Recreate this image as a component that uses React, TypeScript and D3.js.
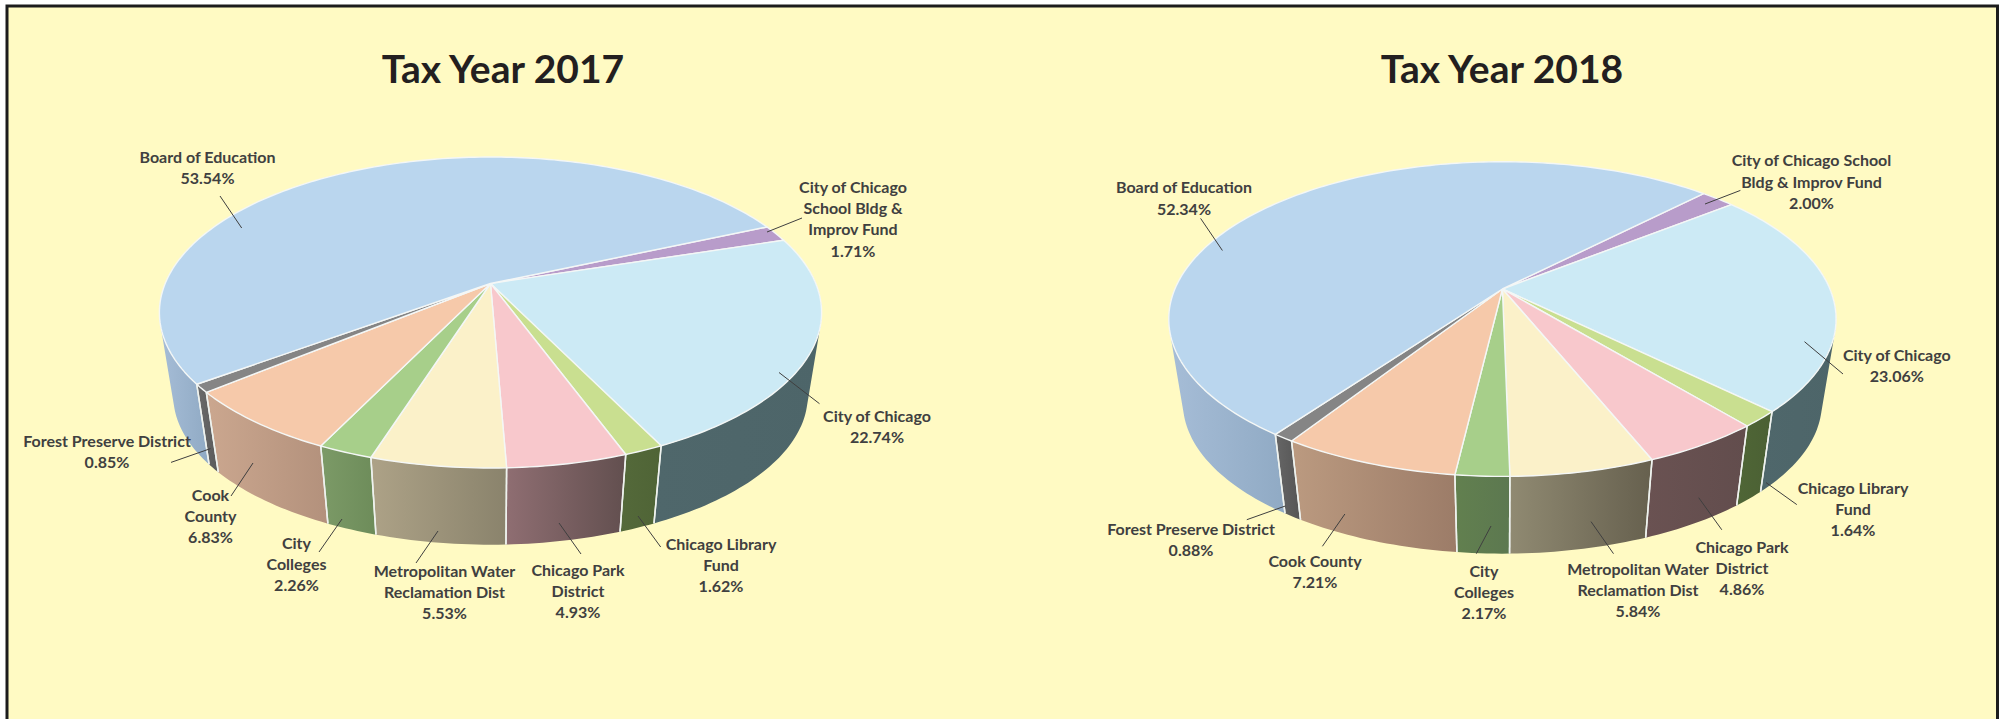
import React, { useMemo } from "react";
import * as d3 from "d3";

const categories = [
  "School Fund",
  "City of Chicago",
  "Chicago Library Fund",
  "Chicago Park District",
  "Metropolitan Water Reclamation Dist",
  "City Colleges",
  "Cook County",
  "Forest Preserve District",
  "Board of Education",
];
const values2017 = [1.71, 22.74, 1.62, 4.93, 5.53, 2.26, 6.83, 0.85, 53.54];
const values2018 = [2.0, 23.06, 1.64, 4.86, 5.84, 2.17, 7.21, 0.88, 52.34];

const topColors = ["#b89cca", "#cceaf5", "#c9df90", "#f8c8cc", "#fbf1c9", "#a7cf8a", "#f6c9aa", "#858585", "#bad6ee"];
const wallLeft2017 = ["#8a7496", "#4f676b", "#54693a", "#8f6e72", "#ada287", "#7c9a67", "#cba78f", "#6b6b6b", "#a6bdd7"];
const wallRight2017 = ["#8a7496", "#4d6569", "#4f6436", "#624f4f", "#8a836c", "#6d8c5a", "#b3917c", "#5a5a5a", "#90aac4"];
const wallLeft2018 = ["#8a7496", "#4f676b", "#4f6636", "#6a5252", "#908a72", "#62804f", "#bb9a80", "#666666", "#a6bdd7"];
const wallRight2018 = ["#8a7496", "#4d6569", "#4b6034", "#624d4d", "#66604e", "#5c7850", "#9c7c68", "#555555", "#90aac4"];

type Lab = { lines: string[]; x: number; y: number; lead: number[] };

const labels2017: Lab[] = [
  { lines: ["Board of Education", "53.54%"], x: 207.5, y: 157, lead: [220, 196, 241.7, 228] },
  { lines: ["City of Chicago", "School Bldg &", "Improv Fund", "1.71%"], x: 853, y: 187, lead: [802, 218, 767, 232] },
  { lines: ["City of Chicago", "22.74%"], x: 877, y: 416, lead: [779, 372.5, 819.5, 403.7] },
  { lines: ["Chicago Library", "Fund", "1.62%"], x: 721, y: 544, lead: [638, 516, 660.7, 547] },
  { lines: ["Chicago Park", "District", "4.93%"], x: 578, y: 570, lead: [559, 523, 581, 554] },
  { lines: ["Metropolitan Water", "Reclamation Dist", "5.53%"], x: 444.5, y: 571, lead: [438, 531, 416, 563] },
  { lines: ["City", "Colleges", "2.26%"], x: 296.5, y: 543, lead: [342, 519, 319, 552] },
  { lines: ["Cook", "County", "6.83%"], x: 210.5, y: 495, lead: [253, 463, 231, 496] },
  { lines: ["Forest Preserve District", "0.85%"], x: 107, y: 441, lead: [210.5, 448.6, 171, 462.4] },
];
const labels2018: Lab[] = [
  { lines: ["Board of Education", "52.34%"], x: 1184, y: 187.6, lead: [1200.6, 218.4, 1222.4, 250.5] },
  { lines: ["City of Chicago School", "Bldg & Improv Fund", "2.00%"], x: 1811.5, y: 160.5, lead: [1740.4, 190.4, 1705, 204] },
  { lines: ["City of Chicago", "23.06%"], x: 1896.8, y: 355, lead: [1804.5, 341.7, 1843, 374] },
  { lines: ["Chicago Library", "Fund", "1.64%"], x: 1853, y: 488, lead: [1766, 482.6, 1796.8, 504.6] },
  { lines: ["Chicago Park", "District", "4.86%"], x: 1742, y: 547, lead: [1698.7, 497.7, 1721.8, 529.8] },
  { lines: ["Metropolitan Water", "Reclamation Dist", "5.84%"], x: 1638, y: 569, lead: [1591, 521.6, 1613.5, 553.7] },
  { lines: ["City", "Colleges", "2.17%"], x: 1484, y: 571, lead: [1491, 526, 1476.3, 553.7] },
  { lines: ["Cook County", "7.21%"], x: 1315, y: 561, lead: [1344.9, 514, 1322.4, 546.3] },
  { lines: ["Forest Preserve District", "0.88%"], x: 1191, y: 529, lead: [1285.3, 506, 1246.8, 519.7] },
];

const FONT = "Lato, 'Open Sans', sans-serif";
const rad = (d: number) => (d * Math.PI) / 180;

type Geo = { apexX: number; apexY: number; A: number; B: number; k: number; vy: number; s: number; start: number };
const geo2017: Geo = { apexX: 490.5, apexY: 283.5, A: 150.1, B: 325.3, k: 0.1865, vy: 2294, s: 0.958, start: 66.1 };
const geo2018: Geo = { apexX: 1502.4, apexY: 289, A: 151.6, B: 327.5, k: 0.191, vy: 2294, s: 0.9575, start: 44.3 };

function Pie3D({ id, values, g, left, right }: { id: string; values: number[]; g: Geo; left: string[]; right: string[] }) {
  const arcs = useMemo(
    () =>
      d3
        .pie<number>()
        .sort(null)
        .startAngle(rad(g.start))
        .endAngle(rad(g.start) + 2 * Math.PI)(values),
    [values, g]
  );
  // angle measured clockwise from the top -> projected point of the top face
  const top = (a: number): [number, number] => {
    const u = Math.sin(a);
    const v = -Math.cos(a);
    const w = 1 - g.k * v;
    return [g.apexX + (g.B * u) / w, g.apexY + (g.A * v) / w];
  };
  const bot = (a: number): [number, number] => {
    const [x, y] = top(a);
    return [g.apexX + (x - g.apexX) * g.s, g.vy + (y - g.vy) * g.s];
  };
  const line = d3.line<number[]>().x((p) => p[0]).y((p) => p[1]);
  const samples = (a0: number, a1: number) => {
    const n = Math.max(2, Math.ceil(((a1 - a0) / Math.PI) * 160));
    return d3.range(n + 1).map((i) => a0 + ((a1 - a0) * i) / n);
  };
  const lo = rad(84);
  const hi = rad(276);
  const norm = (a: number) => {
    const t = 2 * Math.PI;
    return ((a % t) + t) % t;
  };

  const walls = arcs.flatMap((d, i) => {
    let a0 = norm(d.startAngle);
    let a1 = a0 + (d.endAngle - d.startAngle);
    if (a1 <= lo || a0 >= hi) return [];
    const edges: number[] = [];
    if (a0 > lo) edges.push(a0);
    if (a1 < hi) edges.push(a1);
    a0 = Math.max(a0, lo);
    a1 = Math.min(a1, hi);
    const ss = samples(a0, a1);
    // one consistently wound quad per step, so the outline follows the ruled side surface
    const quads = d3.pairs(ss).map(([p, q]) => {
      const pts = [top(p), top(q), bot(q), bot(p)];
      return (line(d3.polygonArea(pts) < 0 ? pts.reverse() : pts) || "") + "Z";
    });
    return [{ i, path: quads.join(""), edges }];
  });

  return (
    <g>
      <defs>
        {walls.map((w) => (
          <linearGradient key={w.i} id={`${id}-w${w.i}`} x1="0" x2="1" y1="0" y2="0">
            <stop offset="0" stopColor={left[w.i]} />
            <stop offset="1" stopColor={right[w.i]} />
          </linearGradient>
        ))}
      </defs>
      {walls.map((w) => (
        <path key={w.i} d={w.path} fill={`url(#${id}-w${w.i})`} />
      ))}
      {walls.flatMap((w) =>
        w.edges.map((a, j) => {
          const t = top(a);
          const b = bot(a);
          return <line key={`${w.i}-${j}`} x1={t[0]} y1={t[1]} x2={b[0]} y2={b[1]} stroke="#eef2ee" strokeWidth={1.5} />;
        })
      )}
      {arcs.map((d, i) => {
        const pts = [[g.apexX, g.apexY], ...samples(d.startAngle, d.endAngle).map(top)];
        return (
          <path
            key={i}
            d={(line(pts as number[][]) || "") + "Z"}
            fill={topColors[i]}
            stroke="#f4f7f6"
            strokeWidth={1.4}
            strokeLinejoin="round"
          >
            <title>{categories[i]}</title>
          </path>
        );
      })}
    </g>
  );
}

function Labels({ items }: { items: Lab[] }) {
  return (
    <g>
      {items.map((l, i) => (
        <g key={i}>
          <line x1={l.lead[0]} y1={l.lead[1]} x2={l.lead[2]} y2={l.lead[3]} stroke="#3f3f3f" strokeWidth={1} />
          {l.lines.map((t, j) => (
            <text
              key={j}
              x={l.x}
              y={l.y + j * 21.3}
              dy="0.36em"
              textAnchor="middle"
              fontFamily={FONT}
              fontWeight={700}
              fontSize={16}
              fill="#404040"
            >
              {t}
            </text>
          ))}
        </g>
      ))}
    </g>
  );
}

export default function App() {
  return (
    <svg width={2005} height={719} style={{ position: "absolute", left: 0, top: 0, display: "block" }}>
      <rect x={0} y={0} width={2005} height={719} fill="#ffffff" />
      <rect x={7} y={6} width={1990.5} height={720} fill="#fffac3" stroke="#1c1c1c" strokeWidth={3} />
      <text x={503} y={69} dy="0.36em" textAnchor="middle" fontFamily={FONT} fontWeight={700} fontSize={39} fill="#231f20">
        Tax Year 2017
      </text>
      <text x={1502} y={69} dy="0.36em" textAnchor="middle" fontFamily={FONT} fontWeight={700} fontSize={39} fill="#231f20">
        Tax Year 2018
      </text>
      <Pie3D id="p17" values={values2017} g={geo2017} left={wallLeft2017} right={wallRight2017} />
      <Pie3D id="p18" values={values2018} g={geo2018} left={wallLeft2018} right={wallRight2018} />
      <Labels items={labels2017} />
      <Labels items={labels2018} />
    </svg>
  );
}
